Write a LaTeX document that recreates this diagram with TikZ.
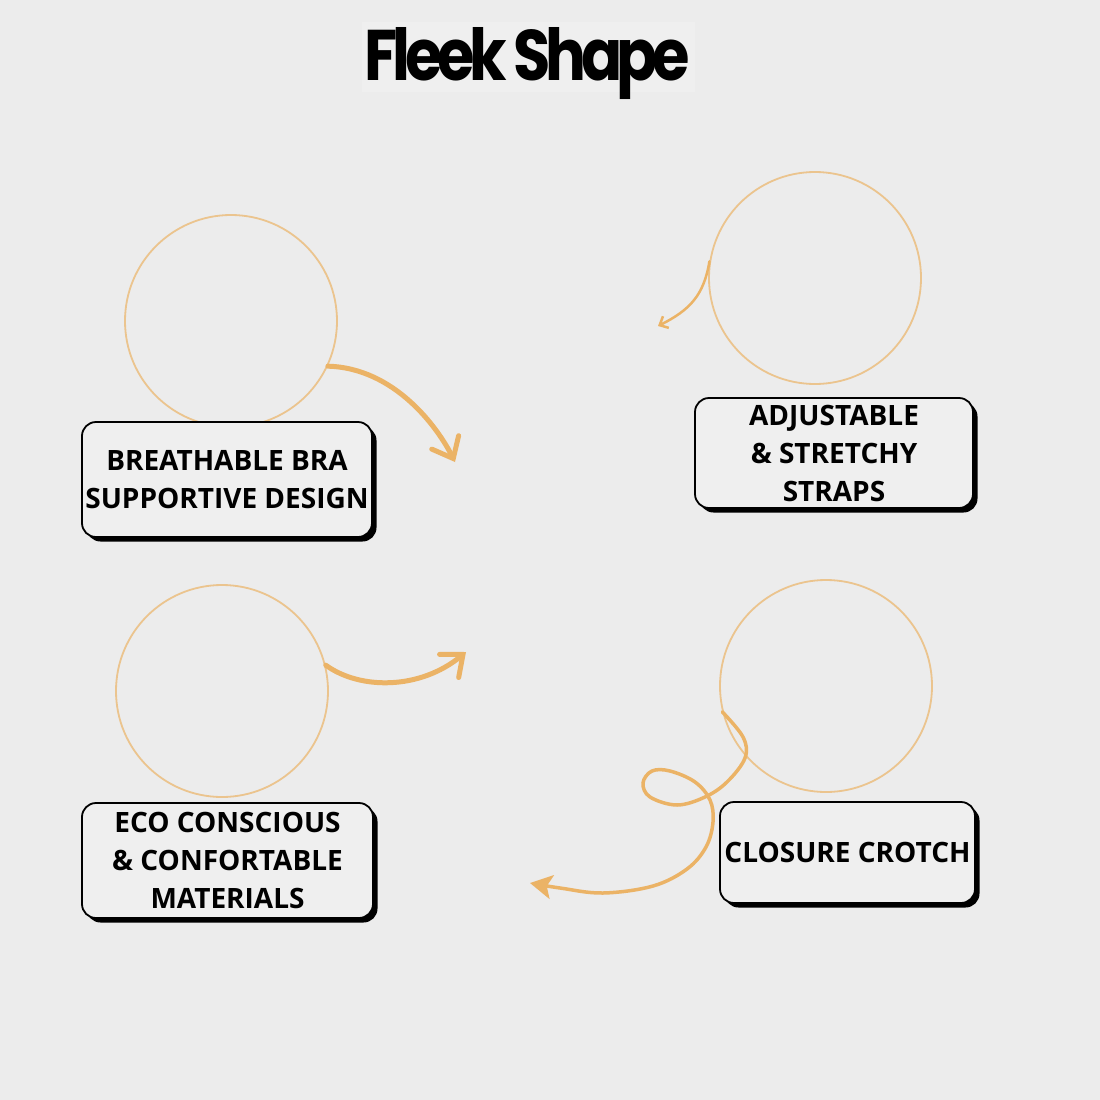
\documentclass[tikz,border=0pt]{standalone}
\usepackage{fontspec}
\setmainfont{Open Sans}
\newfontfamily\titlefont{Poppins}[LetterSpace=-9]
\usetikzlibrary{arrows.meta,shadows}
\definecolor{bgc}{HTML}{ECECEC}
\definecolor{bandc}{HTML}{EFEFEF}
\definecolor{ringc}{HTML}{EBC48E}
\definecolor{arrc}{HTML}{EBB366}
\definecolor{boxc}{HTML}{EFEFEF}
\begin{document}
\begin{tikzpicture}[x=1pt,y=-1pt,
  ring/.style={circle, draw=ringc, line width=1.8pt, minimum size=212pt, inner sep=0pt},
  tag/.style={draw, line width=1.8pt, rounded corners=14pt, fill=boxc, inner sep=0pt, align=center,
    font=\fontsize{28}{38}\selectfont\bfseries,
    drop shadow={shadow xshift=4.5pt, shadow yshift=-4.5pt, opacity=1, fill=black}},
  fat/.style={draw=arrc, line width=5pt, line cap=round, -{Straight Barb[length=18pt,width=30pt,line cap=round]}},
  slim/.style={draw=arrc, line width=2.5pt, line cap=round, -{Straight Barb[length=7pt,width=13pt]}},
  curly/.style={draw=arrc, line width=3.5pt, line cap=round, -{Stealth[length=22pt,width=24pt,inset=5pt]}}]
\useasboundingbox (0,0) rectangle (1100,1100);
\fill[bgc] (0,0) rectangle (1100,1100);
\fill[bandc] (362,22) rectangle (695,92);
\node[font=\titlefont\bfseries, inner sep=0pt, anchor=base] (ttl) at (527.5,80) {\resizebox{325pt}{53pt}{Fleek Shape}};
\node[ring] (cid0) at (231,321){};
\node[ring] (cid1) at (815,278){};
\node[ring] (cid2) at (222,691){};
\node[ring] (cid3) at (826,686){};
\node[tag, minimum width=290pt, minimum height=115pt] (bid0) at (227,479.5){BREATHABLE BRA\\SUPPORTIVE DESIGN};
\node[tag, minimum width=278pt, minimum height=110pt] (bid1) at (834,453){ADJUSTABLE\\\& STRETCHY\\STRAPS};
\node[tag, minimum width=291pt, minimum height=115pt] (bid2) at (227.5,860.5){ECO CONSCIOUS\\\& CONFORTABLE\\MATERIALS};
\node[tag, minimum width=255pt, minimum height=101pt] (bid3) at (847.5,852.5){CLOSURE CROTCH};
\coordinate (aid0) at (455,462);
\coordinate (aid1) at (658,326);
\coordinate (aid2) at (466,652);
\coordinate (aid3) at (530,883);
\draw[fat] (cid0.-25) .. controls (395,368) and (438,428) .. (aid0);
\draw[slim] (cid1.171) .. controls (704,295) and (690,310) .. (aid1);
\draw[fat] (cid2.14) .. controls (360,690) and (420,690) .. (aid2);
\draw[curly] plot[smooth, tension=0.6] coordinates {(cid3.194) (743,737) (745,758) (727,782) (705,797) (677,805) (650,797) (643,783) (652,771) (670,771) (695,782) (710,800) (713,822) (706,847) (687,869) (653,886) (603,893) (560,888) (aid3)};
\end{tikzpicture}
\end{document}
